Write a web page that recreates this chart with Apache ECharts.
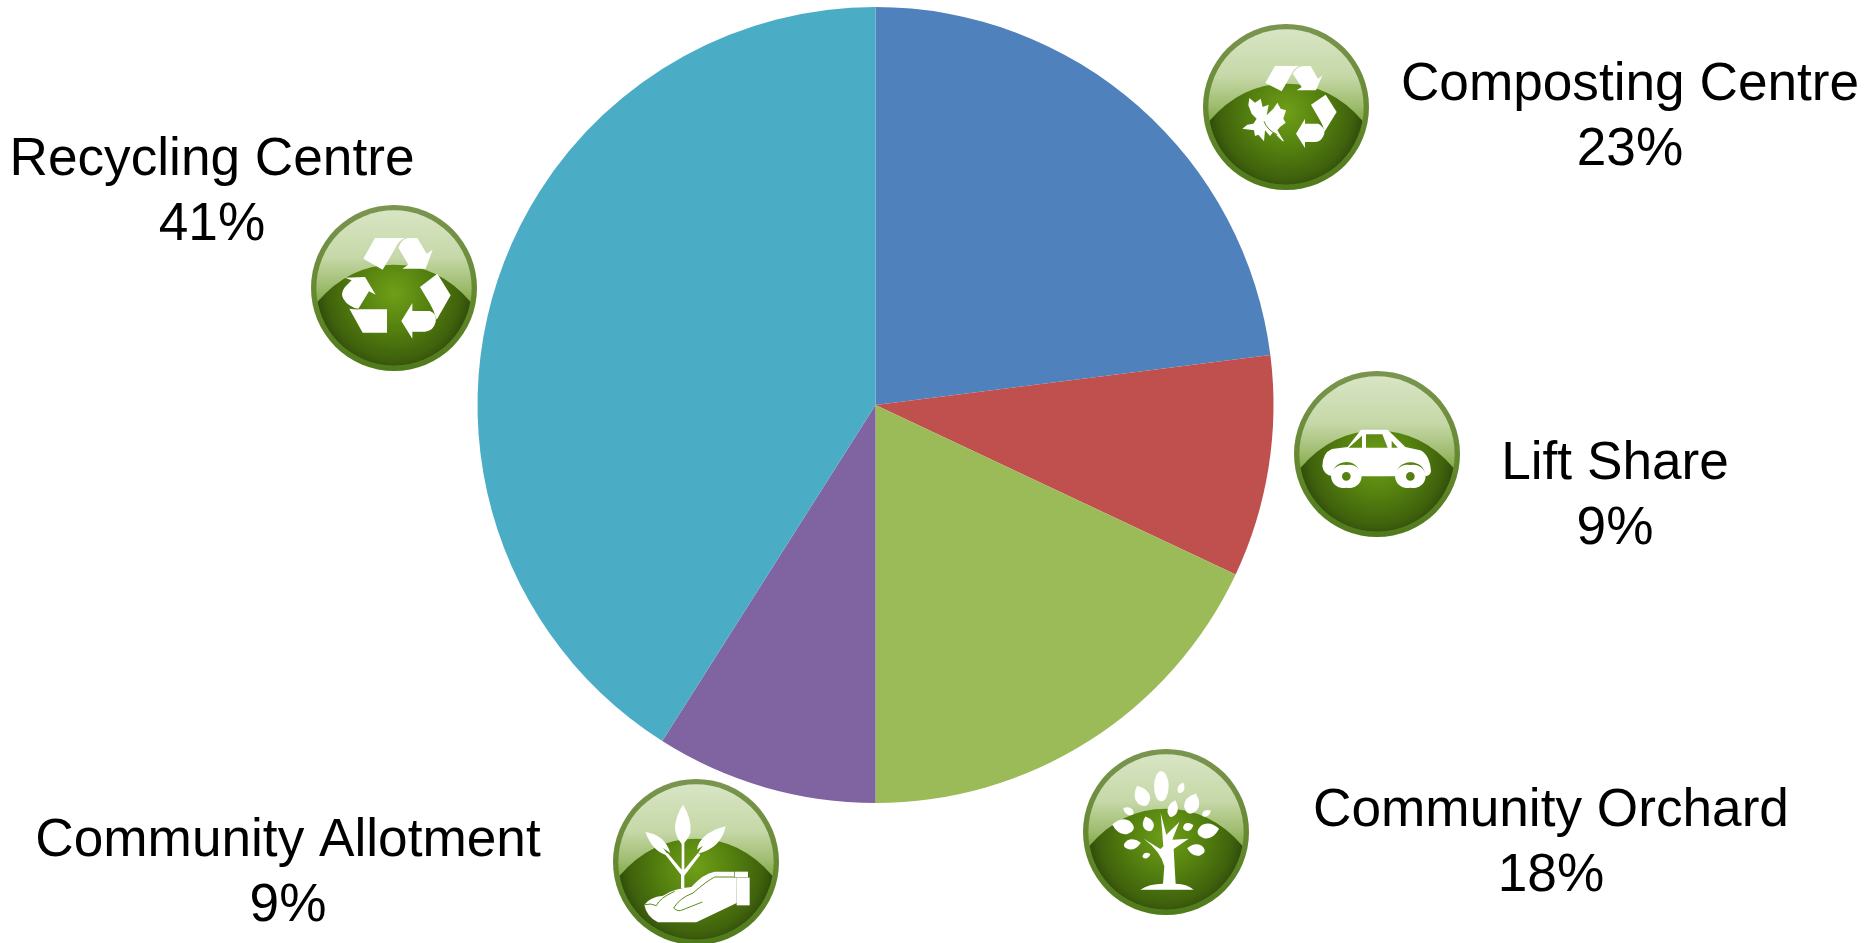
<!DOCTYPE html>
<html>
<head>
<meta charset="utf-8">
<title>Community projects</title>
<script src="https://cdn.jsdelivr.net/npm/echarts@6/dist/echarts.min.js"></script>
<style>
  html, body { margin: 0; padding: 0; background: #fff; }
  #chart { width: 1872px; height: 943px; }
</style>
</head>
<body>
<div id="chart"></div>
<script>
  const names = ['Composting Centre', 'Lift Share', 'Community Orchard', 'Community Allotment', 'Recycling Centre']
  const values = [23, 9, 18, 9, 41]
  const colors = ['#4F81BD', '#C0504D', '#9BBB59', '#8064A2', '#4BACC6']

  // label centres, same order as names
  const labelX = [1630, 1615, 1551, 288, 212]
  const labelY = [118, 497, 844, 874, 193]

  // icon centres, same order as names
  const iconX = [1286, 1377, 1166, 696, 394]
  const iconY = [107, 454, 832, 862, 288]

  // pointed leaf for the tree icon
  function leaf(cx, cy, len, wid, rot) {
    return '<path transform="rotate(' + rot + ' ' + cx + ' ' + cy + ')" d="M' + cx + ' ' + (cy - len) +
      'Q' + (cx + wid * 1.35) + ' ' + (cy - len * 0.35) + ' ' + (cx + wid * 0.9) + ' ' + (cy + len * 0.35) +
      'Q' + cx + ' ' + (cy + len * 1.2) + ' ' + (cx - wid * 0.9) + ' ' + (cy + len * 0.35) +
      'Q' + (cx - wid * 1.35) + ' ' + (cy - len * 0.35) + ' ' + cx + ' ' + (cy - len) + 'Z"/>'
  }

  // white glyphs, drawn in a 600 box that is 3x the icon pixels
  const glyphs = [
    // composting, arrows and a leaf
    '<g transform="translate(12 25)">' +
      '<path d="M255 152L330 152Q315 155 305 175L275 228L226 203Z"/>' +
      '<path d="M308 175Q320 152 345 152L362 152L384 190L397 180L378 225L320 225L335 215Z"/>' +
      '<path d="M363 268L407 238L440 290L403 350Q400 330 390 315Z"/>' +
      '<path d="M345 310L345 325L385 325Q405 335 403 355Q395 380 375 380L345 380L345 398L318 355Z"/>' +
      '<path d="M178 248L195 262L212 250L218 275L236 268L230 300L250 280L262 262L272 280L288 285L280 310L287 322L270 335L262 345L282 378L278 378L250 350L240 362L225 345L222 378L205 358L195 362L192 345L157 340L172 328L190 325L200 310L185 295L175 270Z"/>' +
      '<path d="M222 318Q232 345 262 358" fill="none" stroke="#5c8c18" stroke-width="3"/>' +
    '</g>',
    // car
    '<g transform="translate(-20 17)">' +
      '<path fill-rule="evenodd" d="M272 210L352 210L405 262L450 272Q478 285 482 335Q480 348 465 350Q462 310 420 308Q380 310 377 350L270 350Q266 308 228 307Q188 310 185 350Q160 345 156 320Q156 280 185 268L232 262ZM275 228L235 264L275 264ZM287 224L287 264L352 264L336 224ZM364 243L364 264L382 264Z"/>' +
      '<path fill-rule="evenodd" d="M228 316A37 35 0 1 0 228 384A37 35 0 1 0 228 316ZM228 337A13 13 0 1 1 228 363A13 13 0 1 1 228 337Z"/>' +
      '<path fill-rule="evenodd" d="M420 316A37 35 0 1 0 420 384A37 35 0 1 0 420 316ZM420 337A13 13 0 1 1 420 363A13 13 0 1 1 420 337Z"/>' +
    '</g>',
    // tree
    '<g transform="translate(13 23)">' +
      '<path d="M271 220L288 285L327 247L306 300L355 297L310 328L314 400L316 432Q350 432 370 450L210 450Q235 432 278 432L282 380Q272 335 220 297L270 328L279 320Z"/>' +
      '<ellipse cx="273" cy="140" rx="22" ry="45"/>' +
      leaf(216, 172, 37, 22, -25) +
      leaf(332, 146, 19, 10, 20) +
      leaf(364, 195, 36, 22, 20) +
      leaf(307, 210, 29, 15, 15) +
      leaf(176, 215, 20, 11, -60) +
      leaf(407, 221, 17, 9, 60) +
      leaf(162, 261, 37, 22, -80) +
      leaf(234, 255, 26, 16, -20) +
      leaf(352, 262, 18, 12, 70) +
      leaf(410, 274, 37, 22, 80) +
      leaf(183, 314, 29, 15, 80) +
      leaf(380, 331, 30, 17, -80) +
      leaf(227, 348, 14, 8, 70) +
    '</g>',
    // plant in a hand
    '<g transform="translate(11 23)">' +
      '<path d="M250 105Q278 150 272 190Q265 210 248 225Q225 200 226 170Q230 135 250 105Z"/>' +
      '<path d="M137 187Q195 195 212 250L190 235Q205 255 208 258Q160 250 137 187Z"/>' +
      '<path d="M378 170Q365 235 295 252Q300 240 310 228Q298 235 292 240Q300 190 378 170Z"/>' +
      '<path d="M246 215L254 215L254 300L295 250L302 255L254 318L254 355L244 355L244 315L197 255L204 250L246 300Z"/>' +
      '<path d="M134 405Q150 382 190 378Q225 355 275 352Q310 312 345 306L404 306L404 324L411 324L411 400L290 458L175 458Q140 440 134 405Z"/>' +
      '<g fill="none" stroke="#5c8c18" stroke-width="3">' +
        '<path d="M134 405Q155 400 170 408Q180 385 225 365"/>' +
        '<path d="M222 415Q240 385 280 370Q320 335 345 322L404 322"/>' +
        '<path d="M222 415Q235 428 250 420L308 397"/>' +
      '</g>' +
      '<rect x="406" y="306" width="39" height="17"/>' +
      '<rect x="411" y="324" width="39" height="83"/>' +
    '</g>',
    // recycling
    '<g transform="translate(-12 7)">' +
      '<path d="M255 143L345 143Q326 150 318 170L278 238L220 205Z"/>' +
      '<path d="M325 172Q335 143 360 143L382 143L410 190L428 178L407 235L337 235L355 223Z"/>' +
      '<path d="M390 290L442 250L482 315L440 388Q432 360 420 340Z"/>' +
      '<path d="M367 338L367 362L420 362Q442 370 437 395Q430 422 405 424L367 424L367 445L334 392Z"/>' +
      '<path d="M178 355Q195 358 210 357L291 357L291 427L218 427Z"/>' +
      '<path d="M165 262L225 260L257 313L237 303L205 355Q175 350 160 325Q150 310 165 290L185 270Z"/>' +
    '</g>'
  ]

  function iconUrl(glyph) {
    const svg =
      '<svg xmlns="http://www.w3.org/2000/svg" width="200" height="200" viewBox="0 0 600 600">' +
      '<defs>' +
      '<linearGradient id="ring" x1="0" y1="0" x2="0" y2="1"><stop offset="0" stop-color="#7a9550"/><stop offset="0.6" stop-color="#62872c"/><stop offset="1" stop-color="#4f7a1a"/></linearGradient>' +
      '<linearGradient id="sky" x1="0" y1="0" x2="0" y2="1"><stop offset="0" stop-color="#d8e5c4"/><stop offset="0.3" stop-color="#c6d8a8"/><stop offset="0.5" stop-color="#9dbb6c"/><stop offset="0.66" stop-color="#6d9c26"/><stop offset="1" stop-color="#6d9c26"/></linearGradient>' +
      '<radialGradient id="hill" gradientUnits="userSpaceOnUse" cx="300" cy="315" r="235"><stop offset="0" stop-color="#6f9f18"/><stop offset="0.45" stop-color="#55820f"/><stop offset="0.85" stop-color="#3f610c"/><stop offset="1" stop-color="#2e4a0c"/></radialGradient>' +
      '<clipPath id="inner"><circle cx="300" cy="300" r="233"/></clipPath>' +
      '</defs>' +
      '<circle cx="300" cy="300" r="249" fill="url(#ring)"/>' +
      '<circle cx="300" cy="300" r="233" fill="url(#sky)"/>' +
      '<path clip-path="url(#inner)" d="M70 342Q165 230 300 230Q435 230 530 342L530 560L70 560Z" fill="url(#hill)"/>' +
      '<g fill="#fff">' + glyph + '</g>' +
      '</svg>'
    return 'data:image/svg+xml;charset=utf-8,' + encodeURIComponent(svg)
  }

  const chart = echarts.init(document.getElementById('chart'))

  chart.setOption({
    animation: false,
    backgroundColor: '#fff',
    color: colors,
    graphic: names.map((n, i) => ({
      type: 'image',
      z: 10,
      style: {
        image: iconUrl(glyphs[i]),
        x: iconX[i] - 100,
        y: iconY[i] - 100,
        width: 200,
        height: 200
      }
    })),
    series: [
      {
        type: 'pie',
        center: [875.5, 405],
        radius: [0, 398],
        startAngle: 90,
        clockwise: true,
        silent: true,
        data: names.map((n, i) => ({ name: n, value: values[i] })),
        itemStyle: {
          borderWidth: 0
        },
        labelLine: { show: false },
        label: {
          show: true,
          position: 'outside',
          formatter: '{b}\n{c}%',
          color: '#000',
          fontFamily: '"Liberation Sans", Arial, sans-serif',
          fontSize: 53.2,
          lineHeight: 65,
          align: 'center',
          overflow: 'none'
        },
        labelLayout: params => ({
          x: labelX[params.dataIndex],
          y: labelY[params.dataIndex],
          align: 'center',
          verticalAlign: 'middle',
          hideOverlap: false
        })
      }
    ]
  })
</script>
</body>
</html>
